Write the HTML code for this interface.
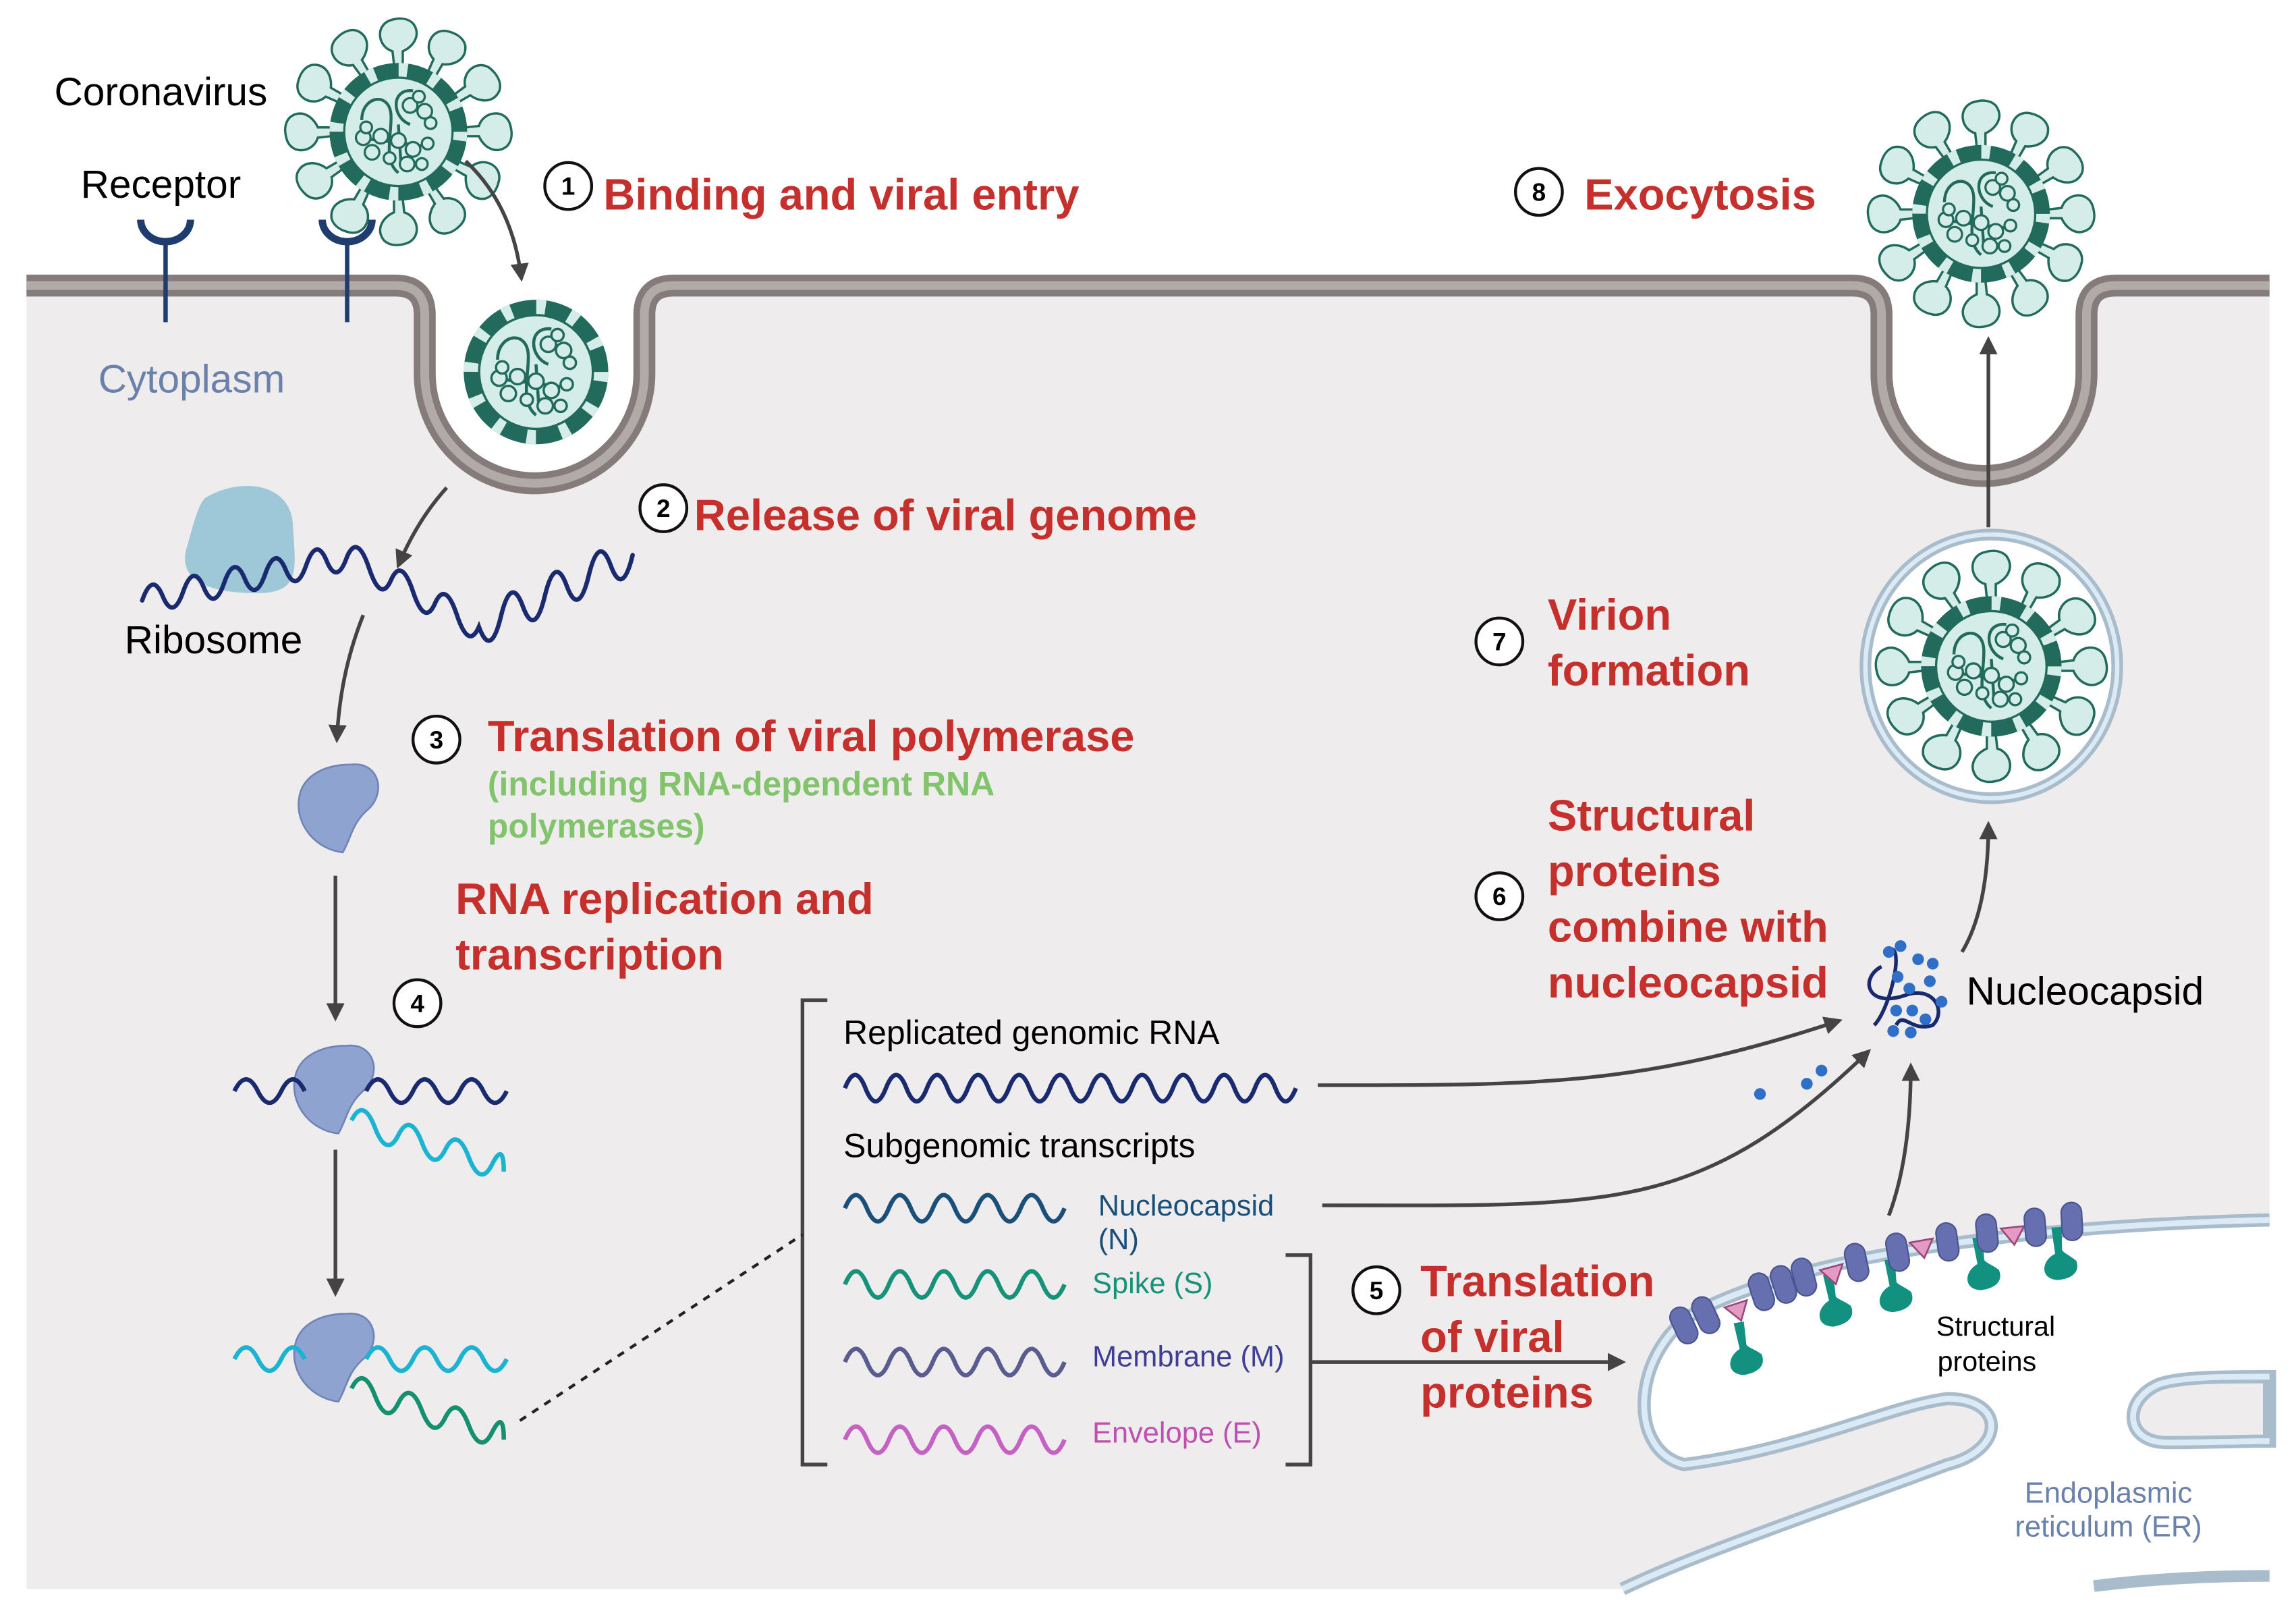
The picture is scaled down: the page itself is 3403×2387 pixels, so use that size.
<!DOCTYPE html>
<html><head><meta charset="utf-8"><style>
html,body{margin:0;padding:0;background:#fff}
svg{display:block}
text{font-family:"Liberation Sans",sans-serif}
.h{fill:#c5302c;font-weight:bold;font-size:30px}
.n{font-size:17px;font-weight:bold;text-anchor:middle}
</style></head><body>
<svg width="3403" height="2387" viewBox="0 0 1568 1100" xmlns="http://www.w3.org/2000/svg">
<defs>
<marker id="ar" viewBox="0 0 10 10" refX="8" refY="5" markerWidth="5" markerHeight="5" orient="auto-start-reverse"><path d="M0,0 L10,5 L0,10z" fill="#444"/></marker>
<g id="core">
<circle r="42" fill="#d4ede8" stroke="#216a5c" stroke-width="10"/>
<circle r="42" fill="none" stroke="#d4ede8" stroke-width="10" stroke-dasharray="6 16"/>
<circle r="37" fill="#d4ede8" stroke="#216a5c" stroke-width="1.5"/>
<g fill="none" stroke="#216a5c" stroke-width="2">
<path d="M-25,-8 C-25,-25 -5,-28 -5,-10 C-5,5 -10,20 0,28"/>
<path d="M8,-5 C-5,-10 -5,-30 10,-28"/>
<path d="M-20,5 L20,10 M0,-5 L2,25"/>
</g>
<g fill="#d4ede8" stroke="#216a5c" stroke-width="1.5">
<circle cx="-24" cy="4" r="5"/><circle cx="-18" cy="14" r="5"/><circle cx="-12" cy="3" r="5"/><circle cx="-22" cy="-3" r="4"/>
<circle cx="8" cy="-18" r="5"/><circle cx="18" cy="-14" r="5"/><circle cx="14" cy="-24" r="4"/><circle cx="22" cy="-6" r="4"/>
<circle cx="0" cy="6" r="5"/><circle cx="10" cy="12" r="5"/><circle cx="20" cy="8" r="4"/><circle cx="6" cy="22" r="5"/><circle cx="-6" cy="18" r="4"/><circle cx="16" cy="22" r="4"/>
</g>
</g>
<g id="spk"><path d="M-3,-46 L-4,-55 C-14,-58 -16,-72 -6,-76 C0,-78 6,-78 10,-74 C16,-66 10,-58 3,-55 L3,-46z" fill="#d4ede8" stroke="#216a5c" stroke-width="1.6"/></g>
<g id="vir">
<use href="#spk" transform="rotate(0)"/><use href="#spk" transform="rotate(30)"/><use href="#spk" transform="rotate(60)"/><use href="#spk" transform="rotate(90)"/><use href="#spk" transform="rotate(120)"/><use href="#spk" transform="rotate(150)"/><use href="#spk" transform="rotate(180)"/><use href="#spk" transform="rotate(210)"/><use href="#spk" transform="rotate(240)"/><use href="#spk" transform="rotate(270)"/><use href="#spk" transform="rotate(300)"/><use href="#spk" transform="rotate(330)"/>
<use href="#core"/>
</g>
<path id="pol" d="M12,-28 C30,-30 36,-10 24,2 C12,12 12,22 6,32 C-12,30 -26,14 -24,-4 C-22,-22 -4,-28 12,-28Z" fill="#8fa3d0" stroke="#6f83b8" stroke-width="1.2"/>
<g id="mem"><rect x="-7" y="-13" width="14" height="26" rx="7" fill="#6670b0" stroke="#4a5490" stroke-width="1"/></g>
<g id="tri"><path d="M-8,-5 L8,-5 L0,7z" fill="#e49ac4" stroke="#9a4878" stroke-width="1.2"/></g>
<g id="spp"><path d="M-3,0 L-2,18 C-12,22 -14,34 -2,36 C8,36 14,32 12,24 C8,20 4,18 3,16 L4,0z" fill="#129080"/></g>
</defs>

<rect width="1568" height="1100" fill="#fff"/>
<path d="M18,195 H270 Q290,195 290,215 V255 A75,75 0 0 0 440,255 V215 Q440,195 460,195 H1265 Q1285,195 1285,215 V255 A70,70 0 0 0 1425,255 V215 Q1425,195 1445,195 H1550 V1085 H18Z" fill="#eeeced"/>
<path d="M18,195 H270 Q290,195 290,215 V255 A75,75 0 0 0 440,255 V215 Q440,195 460,195 H1265 Q1285,195 1285,215 V255 A70,70 0 0 0 1425,255 V215 Q1425,195 1445,195 H1550" fill="none" stroke="#857b7b" stroke-width="15"/>
<path d="M18,195 H270 Q290,195 290,215 V255 A75,75 0 0 0 440,255 V215 Q440,195 460,195 H1265 Q1285,195 1285,215 V255 A70,70 0 0 0 1425,255 V215 Q1425,195 1445,195 H1550" fill="none" stroke="#b2a9a9" stroke-width="6"/>

<!-- ER -->
<path d="M1550,833 C1420,836 1250,850 1160,895 C1115,920 1110,990 1150,1000 C1230,990 1290,960 1330,955 C1370,955 1370,990 1330,1000 C1250,1030 1160,1060 1108,1085 H1550Z" fill="#fff"/>
<path d="M1550,833 C1420,836 1250,850 1160,895 C1115,920 1110,990 1150,1000 C1230,990 1290,960 1330,955 C1370,955 1370,990 1330,1000 C1250,1030 1160,1060 1108,1085" fill="none" stroke="#a8bccc" stroke-width="9"/>
<path d="M1550,833 C1420,836 1250,850 1160,895 C1115,920 1110,990 1150,1000 C1230,990 1290,960 1330,955 C1370,955 1370,990 1330,1000 C1250,1030 1160,1060 1108,1085" fill="none" stroke="#dceaf6" stroke-width="4"/>
<path d="M1550,940 C1520,940 1490,940 1475,945 C1450,955 1450,985 1480,985 C1510,985 1530,984 1550,984Z" fill="#eeeced" stroke="#a8bccc" stroke-width="9"/>
<path d="M1550,940 C1520,940 1490,940 1475,945 C1450,955 1450,985 1480,985 C1510,985 1530,984 1550,984" fill="none" stroke="#dceaf6" stroke-width="4"/>
<path d="M1430,1083 C1470,1078 1510,1076 1550,1076" fill="none" stroke="#a8bccc" stroke-width="8"/>
<use href="#mem" transform="translate(1150,905) rotate(-25)"/><use href="#mem" transform="translate(1165,898) rotate(-25)"/>
<use href="#tri" transform="translate(1187,895) rotate(-18)"/>
<use href="#spp" transform="translate(1187,903) rotate(-10)"/>
<use href="#mem" transform="translate(1203,882) rotate(-18)"/><use href="#mem" transform="translate(1218,877) rotate(-18)"/><use href="#mem" transform="translate(1232,872) rotate(-15)"/>
<use href="#spp" transform="translate(1248,870) rotate(-10)"/>
<use href="#tri" transform="translate(1252,870) rotate(-15)"/>
<use href="#mem" transform="translate(1268,862) rotate(-12)"/>
<use href="#spp" transform="translate(1290,860) rotate(-8)"/>
<use href="#mem" transform="translate(1296,855) rotate(-10)"/>
<use href="#tri" transform="translate(1313,852) rotate(-10)"/>
<use href="#mem" transform="translate(1330,848) rotate(-8)"/>
<use href="#spp" transform="translate(1350,845) rotate(-8)"/>
<use href="#mem" transform="translate(1357,842) rotate(-6)"/>
<use href="#tri" transform="translate(1375,843) rotate(-6)"/>
<use href="#mem" transform="translate(1390,838) rotate(-5)"/>
<use href="#spp" transform="translate(1404,838) rotate(-5)"/>
<use href="#mem" transform="translate(1415,834) rotate(-3)"/>

<g fill="none" stroke="#1e3d6e" stroke-width="5">
<path d="M96,150 A17,15 0 0 0 130,150"/><line x1="113" y1="164" x2="113" y2="220" stroke-width="3"/>
<path d="M220,150 A17,15 0 0 0 254,150"/><line x1="237" y1="164" x2="237" y2="220" stroke-width="3"/>
</g>

<use href="#vir" transform="translate(272,90)"/>
<use href="#core" transform="translate(366,254) scale(1.05)"/>
<use href="#vir" transform="translate(1353,146)"/>
<ellipse cx="1360" cy="455" rx="86" ry="90" fill="#fff" stroke="#a8bccc" stroke-width="8"/>
<ellipse cx="1360" cy="455" rx="86" ry="90" fill="none" stroke="#dceaf6" stroke-width="3"/>
<use href="#vir" transform="translate(1360,455) scale(1.02)"/>

<path d="M140,340 C165,325 200,330 200,360 C202,390 205,405 175,405 C140,405 120,395 128,372 C132,358 135,345 140,340Z" fill="#9ec7d8"/>
<path d="M97,410 q7,-20 14,-3 t14,-3 t14,-3 t14,-3 t14,-3 t14,-3 t14,-3 t14,-3 t14,-3 t14,-3 q7,-16 15,8 t15,8 t15,8 t15,8 t15,8 t15,8 q8,22 15,-7 t15,-7 t15,-7 t15,-7 t15,-7 t15,-7 t15,-7" fill="none" stroke="#1a2a6e" stroke-width="3" stroke-linecap="round"/>

<use href="#pol" transform="translate(228,550)"/>
<use href="#pol" transform="translate(225,742)"/>
<use href="#pol" transform="translate(225,925)"/>
<path d="M160,745 q8,-16 16,0 t16,0 t16,0 M250,745 q8,-16 16,0 t16,0 t16,0 t16,0 t16,0 t16,0" fill="none" stroke="#1a2a6e" stroke-width="3"/>
<path d="M240,765 q8,-16 16,5 t16,5 t16,5 t16,5 t16,5 t16,5 t8,5" fill="none" stroke="#1ab4d2" stroke-width="3"/>
<path d="M160,928 q8,-16 16,0 t16,0 t16,0 M250,928 q8,-16 16,0 t16,0 t16,0 t16,0 t16,0 t16,0" fill="none" stroke="#1ab4d2" stroke-width="3"/>
<path d="M240,948 q8,-16 16,5 t16,5 t16,5 t16,5 t16,5 t16,5 t8,5" fill="none" stroke="#129070" stroke-width="3"/>
<g fill="none" stroke="#444" stroke-width="2.5">
<path d="M305,333 Q285,355 272,386" marker-end="url(#ar)"/>
<path d="M318,110 Q350,140 356,190" marker-end="url(#ar)"/>
<path d="M248,420 Q232,460 230,505" marker-end="url(#ar)"/>
<path d="M229,598 V695" marker-end="url(#ar)"/>
<path d="M229,785 V883" marker-end="url(#ar)"/>
<path d="M1358,360 V232" marker-end="url(#ar)"/>
<path d="M1340,650 Q1358,620 1358,563" marker-end="url(#ar)"/>
<path d="M900,741 C1050,741 1120,742 1256,697" marker-end="url(#ar)"/>
<path d="M903,823 C1100,823 1160,830 1276,718" marker-end="url(#ar)"/>
<path d="M1290,830 Q1305,790 1305,728" marker-end="url(#ar)"/>
<path d="M895,930 H1108" marker-end="url(#ar)"/>
<path d="M565,683 H548 V1000 H565 M878,857 H895 V1000 H878"/>
</g>
<path d="M355,970 L548,843" stroke="#222" stroke-width="2" stroke-dasharray="5 5" fill="none"/>

<path d="M577,743 q7,-18 14,0 t14,0 t14,0 t14,0 t14,0 t14,0 t14,0 t14,0 t14,0 t14,0 t14,0 t14,0 t14,0 t14,0 t14,0 t14,0 t14,0 t14,0 t14,0 t14,0 t14,0 t14,0" fill="none" stroke="#1a2a6e" stroke-width="3"/>
<path d="M577,825 q7.5,-18 15,0 t15,0 t15,0 t15,0 t15,0 t15,0 t15,0 t15,0 t15,0 t15,0" fill="none" stroke="#1a4f7a" stroke-width="3"/>
<path d="M577,877 q7.5,-18 15,0 t15,0 t15,0 t15,0 t15,0 t15,0 t15,0 t15,0 t15,0 t15,0" fill="none" stroke="#16927a" stroke-width="3"/>
<path d="M577,930 q7.5,-18 15,0 t15,0 t15,0 t15,0 t15,0 t15,0 t15,0 t15,0 t15,0 t15,0" fill="none" stroke="#5a5c90" stroke-width="3"/>
<path d="M577,983 q7.5,-18 15,0 t15,0 t15,0 t15,0 t15,0 t15,0 t15,0 t15,0 t15,0 t15,0" fill="none" stroke="#c461c2" stroke-width="3"/>

<g fill="none" stroke="#1a2a6e" stroke-width="2.5">
<path d="M1285,660 C1270,668 1275,688 1300,680 C1320,672 1330,690 1320,700 C1305,705 1300,690 1295,700 M1280,700 C1290,690 1300,650 1292,648"/>
</g>
<g fill="#2f6fc7"><circle cx="1290" cy="650" r="4"/><circle cx="1298" cy="646" r="4"/><circle cx="1310" cy="655" r="4"/><circle cx="1320" cy="658" r="4"/><circle cx="1296" cy="667" r="4"/><circle cx="1318" cy="670" r="4"/><circle cx="1304" cy="675" r="4"/><circle cx="1326" cy="684" r="4"/><circle cx="1295" cy="690" r="4"/><circle cx="1306" cy="690" r="4"/><circle cx="1293" cy="704" r="4"/><circle cx="1305" cy="705" r="4"/><circle cx="1315" cy="696" r="4"/>
<circle cx="1202" cy="747" r="4"/><circle cx="1234" cy="740" r="4"/><circle cx="1244" cy="731" r="4"/></g>

<text x="37" y="72" font-size="27">Coronavirus</text>
<text x="55" y="135" font-size="27">Receptor</text>
<text x="67" y="268" font-size="27" fill="#6a82ab">Cytoplasm</text>
<text x="85" y="446" font-size="27">Ribosome</text>
<text x="576" y="713" font-size="23">Replicated genomic RNA</text>
<text x="576" y="790" font-size="23">Subgenomic transcripts</text>
<text x="750" y="830" font-size="20" fill="#1a4f7a">Nucleocapsid</text>
<text x="750" y="853" font-size="20" fill="#1a4f7a">(N)</text>
<text x="746" y="883" font-size="20" fill="#16927a">Spike (S)</text>
<text x="746" y="933" font-size="20" fill="#3e3e94">Membrane (M)</text>
<text x="746" y="985" font-size="20" fill="#c050b0">Envelope (E)</text>
<text x="1343" y="686" font-size="27">Nucleocapsid</text>
<text x="1363" y="912" font-size="19" text-anchor="middle">Structural</text>
<text x="1357" y="936" font-size="19" text-anchor="middle">proteins</text>
<text x="1440" y="1026" font-size="20" fill="#6a82ab" text-anchor="middle">Endoplasmic</text>
<text x="1440" y="1049" font-size="20" fill="#6a82ab" text-anchor="middle">reticulum (ER)</text>

<g fill="#fff" stroke="#111" stroke-width="2">
<circle cx="388" cy="127" r="16"/><circle cx="453" cy="347" r="16"/><circle cx="298" cy="505" r="16"/><circle cx="285" cy="685" r="16"/><circle cx="940" cy="881" r="16"/><circle cx="1024" cy="612" r="16"/><circle cx="1024" cy="438" r="16"/><circle cx="1051" cy="131" r="16"/>
</g>
<text class="n" x="388" y="133">1</text><text class="n" x="453" y="353">2</text><text class="n" x="298" y="511">3</text><text class="n" x="285" y="691">4</text><text class="n" x="940" y="887">5</text><text class="n" x="1024" y="618">6</text><text class="n" x="1024" y="444">7</text><text class="n" x="1051" y="137">8</text>

<text class="h" x="412" y="143">Binding and viral entry</text>
<text class="h" x="474" y="362">Release of viral genome</text>
<text class="h" x="333" y="513">Translation of viral polymerase</text>
<text x="333" y="543" font-size="23" font-weight="bold" fill="#82c46c">(including RNA-dependent RNA</text>
<text x="333" y="572" font-size="23" font-weight="bold" fill="#82c46c">polymerases)</text>
<text class="h" x="311" y="624">RNA replication and</text>
<text class="h" x="311" y="662">transcription</text>
<text class="h" x="970" y="885">Translation</text>
<text class="h" x="970" y="923">of viral</text>
<text class="h" x="970" y="961">proteins</text>
<text class="h" x="1057" y="567">Structural</text>
<text class="h" x="1057" y="605">proteins</text>
<text class="h" x="1057" y="643">combine with</text>
<text class="h" x="1057" y="681">nucleocapsid</text>
<text class="h" x="1057" y="430">Virion</text>
<text class="h" x="1057" y="468">formation</text>
<text class="h" x="1082" y="143">Exocytosis</text>
</svg>
</body></html>
